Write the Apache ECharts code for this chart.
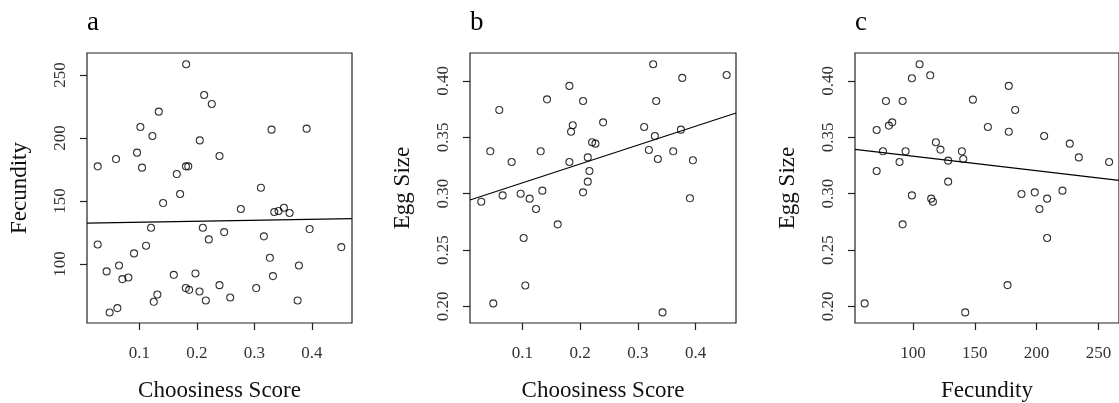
<!DOCTYPE html>
<html>
<head>
<meta charset="utf-8">
<script src="https://cdn.jsdelivr.net/npm/echarts@6/dist/echarts.min.js"></script>
<style>
  html, body { margin: 0; padding: 0; background: #fff; }
  #chart { width: 1119px; height: 403px; }
</style>
</head>
<body>
<div id="chart"></div>
<script>
// Panel a: choosiness score vs fecundity
const choosinessA = [0.0275, 0.0275, 0.0594, 0.043, 0.0646, 0.0704, 0.0808, 0.0483, 0.0617, 0.0907,
  0.0959, 0.1017, 0.1046, 0.1116, 0.1226, 0.1203, 0.1337, 0.1313, 0.125, 0.1412,
  0.1598, 0.165, 0.1708, 0.1813, 0.181, 0.185, 0.1807, 0.1865, 0.1975, 0.205,
  0.2045, 0.2103, 0.2126, 0.2155, 0.2207, 0.2259, 0.2393, 0.2393, 0.2474, 0.2579,
  0.2764, 0.3031, 0.3113, 0.3165, 0.3269, 0.3298, 0.3322, 0.3345, 0.342, 0.3513,
  0.3612, 0.3751, 0.3774, 0.3908, 0.396, 0.4511];
const fecundityA = [177.5, 115.6, 183.3, 94.2, 98.9, 88.1, 89.4, 61.6, 65.1, 108.5,
  188.4, 208.7, 176.5, 114.6, 201.6, 128.8, 220.9, 75.9, 70.1, 148.4,
  91.5, 171.4, 155.6, 258.5, 177.5, 177.5, 81.0, 79.6, 92.6, 198.1,
  78.3, 128.8, 234.1, 71.2, 119.6, 227.0, 185.7, 83.3, 125.4, 73.5,
  143.7, 81.0, 160.6, 122.0, 105.0, 206.6, 90.5, 141.3, 142.1, 144.7,
  140.5, 71.2, 98.9, 207.4, 127.8, 113.5];

// Panel b: choosiness score vs egg size
const choosinessB = [0.0289, 0.0445, 0.0497, 0.0601, 0.0659, 0.0815, 0.0971, 0.1023, 0.1052, 0.1127,
  0.1237, 0.1318, 0.1347, 0.1428, 0.1613, 0.1815, 0.1815, 0.1844, 0.1873, 0.2052,
  0.2052, 0.2133, 0.2133, 0.2162, 0.2208, 0.2266, 0.2399, 0.311, 0.3191, 0.3266,
  0.3295, 0.3318, 0.3347, 0.3428, 0.3613, 0.3746, 0.3769, 0.3902, 0.3954, 0.4538];
const eggSizeB = [0.2929, 0.3376, 0.2027, 0.3743, 0.2985, 0.3281, 0.3000, 0.2607, 0.2186, 0.2956,
  0.2864, 0.3376, 0.3027, 0.3837, 0.2728, 0.3956, 0.3281, 0.3550, 0.3607, 0.3822,
  0.3012, 0.3322, 0.3107, 0.3201, 0.3456, 0.3444, 0.3633, 0.3592, 0.3388, 0.4148,
  0.3512, 0.3822, 0.3308, 0.1947, 0.3376, 0.3568, 0.4027, 0.2959, 0.3296, 0.4053];

// Panel c: fecundity vs egg size
const fecundityC = [61.0, 70.7, 70.7, 75.8, 78.2, 80.6, 83.3, 89.2, 91.7, 91.7,
  94.1, 99.2, 99.2, 105.4, 114.0, 114.8, 116.2, 118.6, 122.3, 128.5,
  128.5, 139.6, 140.7, 142.3, 148.5, 160.6, 176.5, 177.5, 177.5, 182.7,
  187.8, 198.5, 202.3, 206.1, 208.5, 208.5, 220.9, 226.8, 234.1, 258.6];
const eggSizeC = [0.2027, 0.3565, 0.3201, 0.3376, 0.3822, 0.3604, 0.3633, 0.3281, 0.3822, 0.2728,
  0.3376, 0.4024, 0.2985, 0.4148, 0.4050, 0.2956, 0.2929, 0.3456, 0.3391, 0.3293,
  0.3107, 0.3376, 0.3308, 0.1947, 0.3834, 0.3592, 0.2189, 0.3956, 0.3550, 0.3743,
  0.2997, 0.3012, 0.2864, 0.3512, 0.2956, 0.2607, 0.3027, 0.3444, 0.3322, 0.3281];

// Fitted regression lines: [intercept, slope]
const fitA = [132.4, 7.8];
const fitB = [0.2928, 0.1677];
const fitC = [0.3462, -0.000129];

// Tick labels
const ticksChoosiness = [0.1, 0.2, 0.3, 0.4];
const ticksFecundity = [100, 150, 200, 250];
const ticksEggSize = [0.20, 0.25, 0.30, 0.35, 0.40];

// Panel letters and axis titles
const panelLetters = ['a', 'b', 'c'];
const xTitles = ['Choosiness Score', 'Choosiness Score', 'Fecundity'];
const yTitles = ['Fecundity', 'Egg Size', 'Egg Size'];

// Axis extents (data range padded 4% each side)
const ranges = [
  { x: [0.0089, 0.4697], y: [53.3, 267.4] },
  { x: [0.0094, 0.4700], y: [0.1853, 0.4248] },
  { x: [53.2, 266.6], y: [0.1853, 0.4248] }
];

const FONT = '"Liberation Serif", "Times New Roman", serif';
const grids = [
  { left: 87, top: 53, width: 265, height: 270 },
  { left: 470, top: 53, width: 266, height: 270 },
  { left: 855, top: 53, width: 264, height: 270 }
];

const xTicks = [ticksChoosiness, ticksChoosiness, ticksFecundity];
const yTicks = [ticksFecundity, ticksEggSize, ticksEggSize];
const xFmt = [v => v.toFixed(1), v => v.toFixed(1), v => String(Math.round(v))];
const yFmt = [v => String(Math.round(v)), v => v.toFixed(2), v => v.toFixed(2)];
const pairs = [[choosinessA, fecundityA], [choosinessB, eggSizeB], [fecundityC, eggSizeC]];
const fits = [fitA, fitB, fitC];

function zip(xs, ys) { return xs.map((x, i) => [x, ys[i]]); }

const chart = echarts.init(document.getElementById('chart'), null, { renderer: 'canvas' });

const option = {
  animation: false,
  backgroundColor: '#fff',
  title: panelLetters.map((t, i) => ({
    text: t,
    left: grids[i].left - 5,
    top: 4,
    textStyle: { fontFamily: FONT, fontSize: 27, fontWeight: 'normal', color: '#000' }
  })),
  grid: grids.map(g => Object.assign({
    show: true, borderColor: '#222', borderWidth: 1.2, backgroundColor: 'transparent',
    containLabel: false, outerBoundsMode: 'none'
  }, g)),
  xAxis: grids.map((g, i) => ({
    gridIndex: i,
    type: 'value',
    min: ranges[i].x[0],
    max: ranges[i].x[1],
    name: xTitles[i],
    nameLocation: 'middle',
    nameGap: 56,
    nameTextStyle: { fontFamily: FONT, fontSize: 23, color: '#111' },
    axisLine: { show: false },
    axisTick: { show: true, inside: false, length: 7, customValues: xTicks[i], lineStyle: { color: '#222', width: 1.2 } },
    axisLabel: { customValues: xTicks[i], formatter: xFmt[i], fontFamily: FONT, fontSize: 17, color: '#333', margin: 22 },
    splitLine: { show: false }
  })),
  yAxis: grids.map((g, i) => ({
    gridIndex: i,
    type: 'value',
    min: ranges[i].y[0],
    max: ranges[i].y[1],
    name: yTitles[i],
    nameLocation: 'middle',
    nameGap: 56,
    nameTextStyle: { fontFamily: FONT, fontSize: 23, color: '#111' },
    axisLine: { show: false },
    axisTick: { show: true, inside: false, length: 7, customValues: yTicks[i], lineStyle: { color: '#222', width: 1.2 } },
    axisLabel: { customValues: yTicks[i], formatter: yFmt[i], rotate: 90, fontFamily: FONT, fontSize: 17, color: '#333', margin: 18 },
    splitLine: { show: false }
  })),
  series: []
};

pairs.forEach((p, i) => {
  option.series.push({
    type: 'scatter',
    xAxisIndex: i,
    yAxisIndex: i,
    data: zip(p[0], p[1]),
    symbol: 'circle',
    symbolSize: 7,
    itemStyle: { color: 'rgba(0,0,0,0)', borderColor: '#000', borderWidth: 1.1 },
    emphasis: { disabled: true },
    silent: true
  });
  const [a, b] = fits[i];
  const x0 = ranges[i].x[0], x1 = ranges[i].x[1];
  option.series.push({
    type: 'line',
    xAxisIndex: i,
    yAxisIndex: i,
    data: [[x0, a + b * x0], [x1, a + b * x1]],
    showSymbol: false,
    lineStyle: { color: '#000', width: 1.2 },
    emphasis: { disabled: true },
    silent: true
  });
});

chart.setOption(option);
</script>
</body>
</html>
